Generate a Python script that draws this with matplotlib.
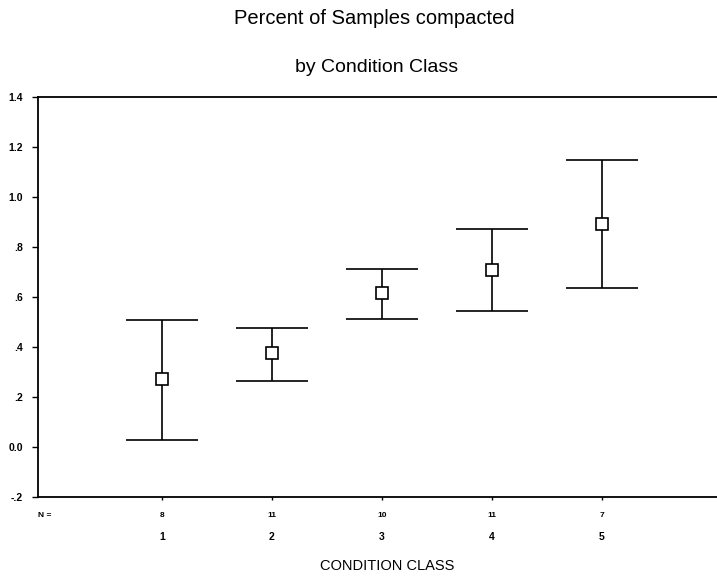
import matplotlib
matplotlib.use('Agg')
import matplotlib.pyplot as plt

plt.rcParams['font.family'] = ['Liberation Sans', 'DejaVu Sans']

# データ
classes = [1, 2, 3, 4, 5]
class_labels = ['1', '2', '3', '4', '5']
n_labels = ['8', '11', '10', '11', '7']
means = [0.272, 0.376, 0.616, 0.708, 0.892]
upper = [0.508, 0.476, 0.712, 0.872, 1.148]
lower = [0.028, 0.264, 0.512, 0.544, 0.636]
yticks = [-0.2, 0.0, 0.2, 0.4, 0.6, 0.8, 1.0, 1.2, 1.4]
ytick_labels = ['-.2', '0.0', '.2', '.4', '.6', '.8', '1.0', '1.2', '1.4']

fig = plt.figure(figsize=(7.17, 5.77), dpi=100)
ax = fig.add_axes([38 / 717, 80 / 577, 679 / 717, 400 / 577])

cap = 0.33
ax.vlines(classes, lower, upper, color='black', linewidth=1.2)
ax.hlines(upper, [c - cap for c in classes], [c + cap for c in classes],
          color='black', linewidth=1.2)
ax.hlines(lower, [c - cap for c in classes], [c + cap for c in classes],
          color='black', linewidth=1.2)
ax.plot(classes, means, linestyle='none', marker='s', markersize=8,
        markerfacecolor='white', markeredgecolor='black', markeredgewidth=1.2)

ax.set_xlim(-0.127, 6.045)
ax.set_ylim(-0.2, 1.4)
ax.set_yticks(yticks)
ax.set_yticklabels(ytick_labels, fontsize=7.5, fontweight='bold')
ax.tick_params(axis='y', length=4, width=1, pad=7)
ax.set_xticks(classes)
ax.set_xticklabels([])
ax.tick_params(axis='x', length=2, width=1)

for s in ['top', 'bottom', 'left']:
    ax.spines[s].set_linewidth(1.3)
ax.spines['right'].set_visible(False)

# N= とクラス番号
ax.annotate('N =', (-0.127, -0.2), xytext=(0, -13), textcoords='offset points',
            ha='left', va='center', fontsize=6, fontweight='bold')
for c, n, lab in zip(classes, n_labels, class_labels):
    ax.annotate(n, (c, -0.2), xytext=(0, -13), textcoords='offset points',
                ha='center', va='center', fontsize=6, fontweight='bold')
    ax.annotate(lab, (c, -0.2), xytext=(0, -29), textcoords='offset points',
                ha='center', va='center', fontsize=7.5, fontweight='bold')

fig.text(374 / 717, 1 - 18 / 577, 'Percent of Samples compacted',
         ha='center', va='center', fontsize=14.5)
fig.text(377 / 717, 1 - 67 / 577, 'by Condition Class',
         ha='center', va='center', fontsize=14)
fig.text(387 / 717, 1 - 566 / 577, 'CONDITION CLASS',
         ha='center', va='center', fontsize=10.5)

fig.savefig('out.png', dpi=100)
